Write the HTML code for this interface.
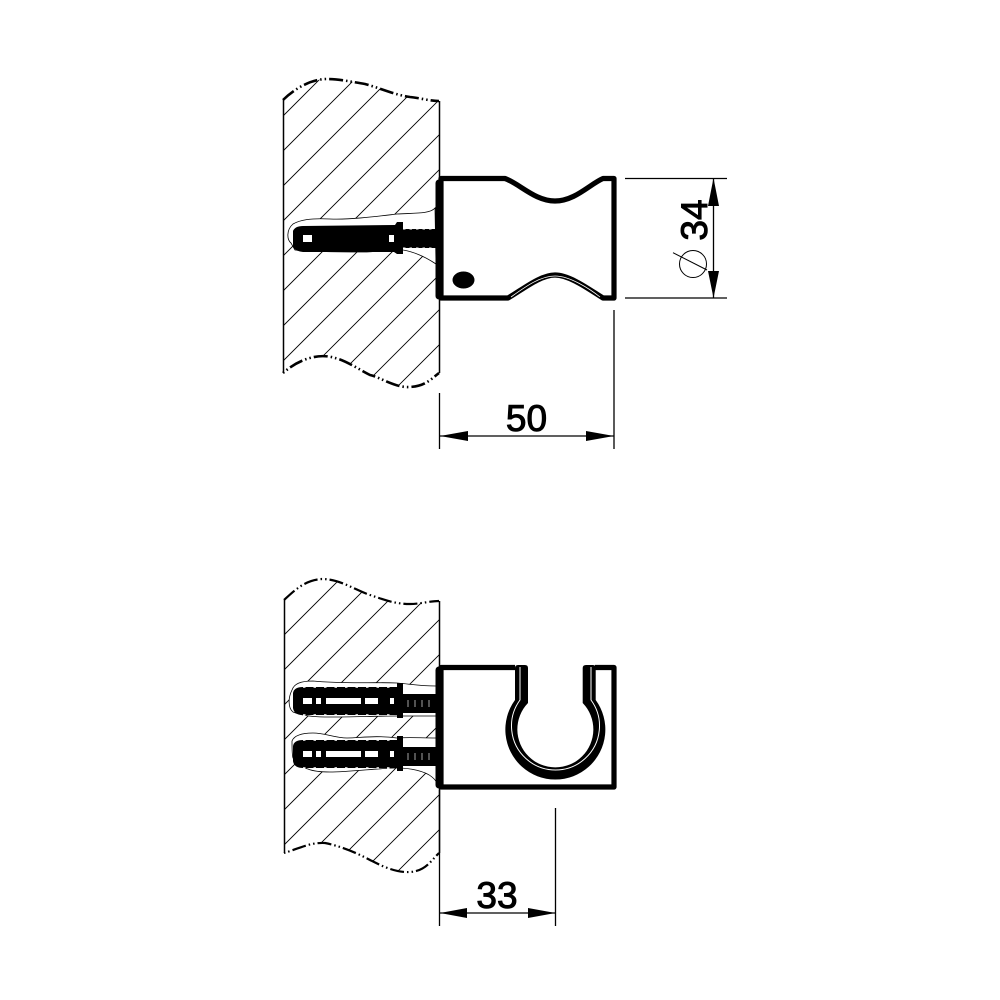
<!DOCTYPE html>
<html><head><meta charset="utf-8"><style>html,body{margin:0;padding:0;background:#fff}svg{display:block}text{font-family:"Liberation Sans",Arial,sans-serif;font-size:37px;fill:#000;stroke:#000;stroke-width:1}</style></head>
<body>
<svg width="1000" height="1000" viewBox="0 0 1000 1000" xmlns="http://www.w3.org/2000/svg">
<defs>
<clipPath id="w1"><path d="M283,100C295,88 312,79 327,79C340,79 352,82 365,84C380,88 395,95 410,97C420,98 430,101 439,101L439,373C430,380 425,386 410,387C395,388 380,377 370,375C360,370 345,360 335,358C320,353 300,358 283,373Z"/></clipPath>
<clipPath id="w2"><path d="M284,600C295,590 305,580 322,579C340,579 355,590 370,595C385,600 395,604 410,604C420,604 430,601 439,601L439,853C430,862 425,871 410,872C395,873 380,865 370,860C355,852 340,846 325,843C310,842 295,850 284,853Z"/></clipPath>
</defs>

<!-- TOP WALL -->
<g clip-path="url(#w1)" stroke="#000" stroke-width="0.9">
<path d="M283,116L340,59M283,151L375,59M283,186L410,59M283,221L445,59M283,256L445,94M283,291L445,129M283,326L445,164M283,361L445,199M283,396L445,234M308,406L445,269M343,406L445,304M378,406L445,339M413,406L445,374"/>
</g>
<path d="M283.5,100V373M439.5,101V373" stroke="#000" stroke-width="1.5" fill="none"/>
<path d="M283,100C295,88 312,79 327,79C340,79 352,82 365,84C380,88 395,95 410,97C420,98 430,101 439,101" fill="none" stroke="#000" stroke-width="2.6" stroke-dasharray="14 3 1.5 3 1.5 3"/>
<path d="M283,373C300,358 320,353 335,358C345,360 360,370 370,375C380,377 395,388 410,387C425,386 430,380 439,373" fill="none" stroke="#000" stroke-width="2.6" stroke-dasharray="1.5 3 1.5 3 14 3"/>
<path d="M435,208C430,214 415,213 397,214C380,216 350,220 330,219C310,218 300,220 293,224C286,230 287,240 291,243L295,250C315,252 340,252 363,252C380,252 395,248 403,250C415,252 427,258 436,264Z" fill="#fff" stroke="#000" stroke-width="0.8"/>
<!-- top anchor -->
<path d="M293,231Q295,226 303,226L395,225L397,222H403V229H438V248H403V254H397L394,252H303Q295,251 293,247Z" fill="#000"/>
<rect x="303" y="235" width="9" height="7" fill="#fff"/><rect x="389" y="235" width="5" height="7" fill="#fff"/>
<path d="M403,229H438M403,248H438" stroke="#fff" stroke-width="1.100" stroke-dasharray="2.500 4"/>
<!-- top body -->
<path d="M441,178.500H505C520,184 535,201 555,201C575,201 590,184 603,178.500H614V298H603C590,290 570,275 555,275C540,275 522,290 508,298H441Z" fill="#fff" stroke="#000" stroke-width="5.200" stroke-linejoin="round"/>
<path d="M439,183V296" stroke="#000" stroke-width="7" stroke-linecap="round"/>
<path d="M511,297C525,287 540,276 555,276C570,276 590,289 600,297" fill="none" stroke="#fff" stroke-width=".8"/>
<ellipse cx="463.500" cy="280" rx="11" ry="8.500" fill="#000"/>
<!-- dims top -->
<g stroke="#000" stroke-width="1.300" fill="none">
<path d="M625,178.500H727M625,298H727M713.500,178V298"/>
<path d="M439.500,393V449M614,310V449M440,436H614"/>
<circle cx="693" cy="264" r="13.500" stroke-width="1"/>
<path d="M673,252.700L707,270" stroke-width="1"/>
</g>
<path d="M713.500,178L719,206H708ZM713.500,298L719,271H708ZM440,436L468,431V441ZM614,436L586,431V441Z" fill="#000"/>
<text x="526.500" y="431" text-anchor="middle">50</text>
<text transform="translate(707,220) rotate(-90)" text-anchor="middle">34</text>

<!-- BOTTOM WALL -->
<g clip-path="url(#w2)" stroke="#000" stroke-width="0.9">
<path d="M284,635L344,575M284,670L379,575M284,705L414,575M284,740L445,579M284,775L445,614M284,810L445,649M284,845L445,684M284,880L445,719M314,885L445,754M349,885L445,789M384,885L445,824M419,885L445,859"/>
</g>
<path d="M284.500,600V853M439.500,601V853" stroke="#000" stroke-width="1.500" fill="none"/>
<path d="M284,600C295,590 305,580 322,579C340,579 355,590 370,595C385,600 395,604 410,604C420,604 430,601 439,601" fill="none" stroke="#000" stroke-width="2.200" stroke-dasharray="14 3 1.500 3 1.500 3"/>
<path d="M284,853C295,850 310,842 325,843C340,846 355,852 370,860C380,865 395,873 410,872C425,871 430,862 439,853" fill="none" stroke="#000" stroke-width="2.200" stroke-dasharray="1.500 3 1.500 3 14 3"/>
<!-- lower holes -->
<path d="M436,686C420,686 410,684 397,683C375,682 340,684 313,681C300,681 294,684 292,690C288,698 288,708 293,712C305,717 320,717 330,717C350,717 380,716 397,716H436Z" fill="#fff" stroke="#000" stroke-width="0.8"/>
<path d="M436,738C420,738 410,737 397,738C375,735 360,738 347,738C335,738 325,733 313,733C300,733 294,736 292,741C292,750 292,755 293,758C296,764 300,767 308,769C315,772 325,772 330,772C350,772 380,768 397,768C410,768 425,771 432,777C437,781 438,785 440,788V738Z" fill="#fff" stroke="#000" stroke-width="0.8"/>
<!-- anchors -->
<g>
<path d="M293,693Q294,687 303,687H397V683L403,683V694H438V713H403V718H397V715H303Q294,715 293,708Z" fill="#000"/>
<path d="M303,698h9v6h-9zM316,698h5v6h-5zM326,698h35v6h-35zM365,698h13v6h-13zM390,698h4v6h-4z" fill="#fff"/>
<path d="M303,687H396M303,715H396" stroke="#fff" stroke-width="1.400" stroke-dasharray="2.500 8"/>
<path d="M408,700V707M415,700V707M422,700V707M429,700V707" stroke="#fff" stroke-width=".8" opacity=".8"/>
</g>
<g transform="translate(0,53)">
<path d="M293,693Q294,687 303,687H397V683L403,683V694H438V713H403V718H397V715H303Q294,715 293,708Z" fill="#000"/>
<path d="M303,698h9v6h-9zM316,698h5v6h-5zM326,698h35v6h-35zM365,698h13v6h-13zM390,698h4v6h-4z" fill="#fff"/>
<path d="M303,687H396M303,715H396" stroke="#fff" stroke-width="1.400" stroke-dasharray="2.500 8"/>
<path d="M408,700V707M415,700V707M422,700V707M429,700V707" stroke="#fff" stroke-width=".8" opacity=".8"/>
</g>
<!-- lower body -->
<path d="M515,667.500H441V787H614V667.500H595" fill="#fff" stroke="#000" stroke-width="5.200" stroke-linejoin="round"/>
<path d="M439,670V785" stroke="#000" stroke-width="7" stroke-linecap="round"/>
<path d="M515,668Q515,665 518,665H525Q528,665 528,668V703A38,38 0 1 0 582.700,703V668Q582.700,665 586,665H593Q595.700,665 595.700,668V700A50,50 0 1 1 515,700Z" fill="#000"/>
<path d="M520,667V700A44,44 0 1 0 591,700V667" fill="none" stroke="#fff" stroke-width="1"/>
<!-- dims bottom -->
<g stroke="#000" stroke-width="1.300" fill="none">
<path d="M439.500,790V926M555.500,808V926M440,913H555"/>
</g>
<path d="M440,913L467,908V918ZM555.500,913L528,908V918Z" fill="#000"/>
<text x="497" y="908" text-anchor="middle">33</text>
</svg>
</body></html>
